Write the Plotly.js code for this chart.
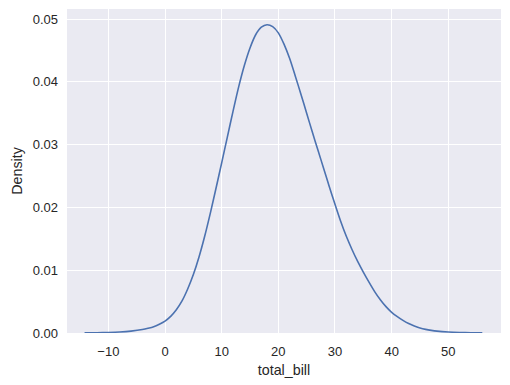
<!DOCTYPE html>
<html>
<head>
<meta charset="utf-8">
<script src="https://cdn.plot.ly/plotly-3.0.1.min.js"></script>
<style>html,body{margin:0;padding:0;background:#fff;}#chart{width:510px;height:385px;}</style>
</head>
<body>
<div id="chart"></div>
<script>
const totalBill = [-14.2, -12, -10, -8, -6, -4, -3, -2, -1, 0, 1, 2, 3, 4, 5, 6, 7, 8, 9, 10,
  11, 12, 13, 14, 15, 16, 17, 18, 19, 20, 21, 22, 23, 24, 25, 26, 27, 28, 29, 30,
  31, 32, 33, 34, 35, 36, 37, 38, 39, 40, 41, 42, 43, 44, 45, 46, 47, 48, 50, 52, 54, 56];
const density = [0.00003, 0.00005, 0.00009, 0.00016, 0.0003, 0.00055, 0.00075, 0.0010, 0.0014, 0.0019,
  0.00265, 0.0037, 0.0051, 0.0070, 0.0093, 0.0121, 0.0154, 0.0191, 0.02305, 0.0271,
  0.0312, 0.0353, 0.0392, 0.0426, 0.0454, 0.0475, 0.0487, 0.0491, 0.0488, 0.0478,
  0.0460, 0.0437, 0.0409, 0.0380, 0.0350, 0.0320, 0.0291, 0.0262, 0.0233, 0.0205,
  0.0178, 0.0154, 0.0133, 0.0114, 0.0097, 0.0081, 0.0066, 0.0053, 0.0042, 0.0033,
  0.0026, 0.0020, 0.0015, 0.0011, 0.0008, 0.00058, 0.00042, 0.0003, 0.00016, 0.00008, 0.00004, 0.00002];
const xTicks = [-10, 0, 10, 20, 30, 40, 50];
const yTicks = [0, 0.01, 0.02, 0.03, 0.04, 0.05];

const trace = {
  x: totalBill, y: density, type: 'scatter', mode: 'lines',
  line: {color: '#4C72B0', width: 1.6, shape: 'spline', smoothing: 0.8},
  hoverinfo: 'skip'
};
const fam = 'Liberation Sans, Arial, sans-serif';
const layout = {
  width: 510, height: 385,
  margin: {l: 67, r: 9, t: 9, b: 52},
  paper_bgcolor: '#ffffff', plot_bgcolor: '#EAEAF2',
  font: {family: fam, size: 13, color: '#262626'}, showlegend: false,
  xaxis: {
    range: [-17.3, 59.3], tickvals: xTicks, ticks: '', showline: false, zeroline: false,
    gridcolor: '#ffffff', gridwidth: 1, ticklabelstandoff: 9,
    tickfont: {family: fam, size: 13, color: '#262626'},
    title: {text: 'total_bill', font: {size: 14.3, family: fam, color: '#262626'}, standoff: 6},
    automargin: false
  },
  yaxis: {
    range: [0, 0.0516], tickvals: yTicks, tickformat: '.2f', ticks: '', showline: false, zeroline: false,
    gridcolor: '#ffffff', gridwidth: 1, ticklabelstandoff: 8,
    tickfont: {family: fam, size: 13, color: '#262626'},
    title: {text: 'Density', font: {size: 14.3, family: fam, color: '#262626'}, standoff: 6},
    automargin: false
  }
};
Plotly.newPlot('chart', [trace], layout, {staticPlot: true, displayModeBar: false});
</script>
</body>
</html>
